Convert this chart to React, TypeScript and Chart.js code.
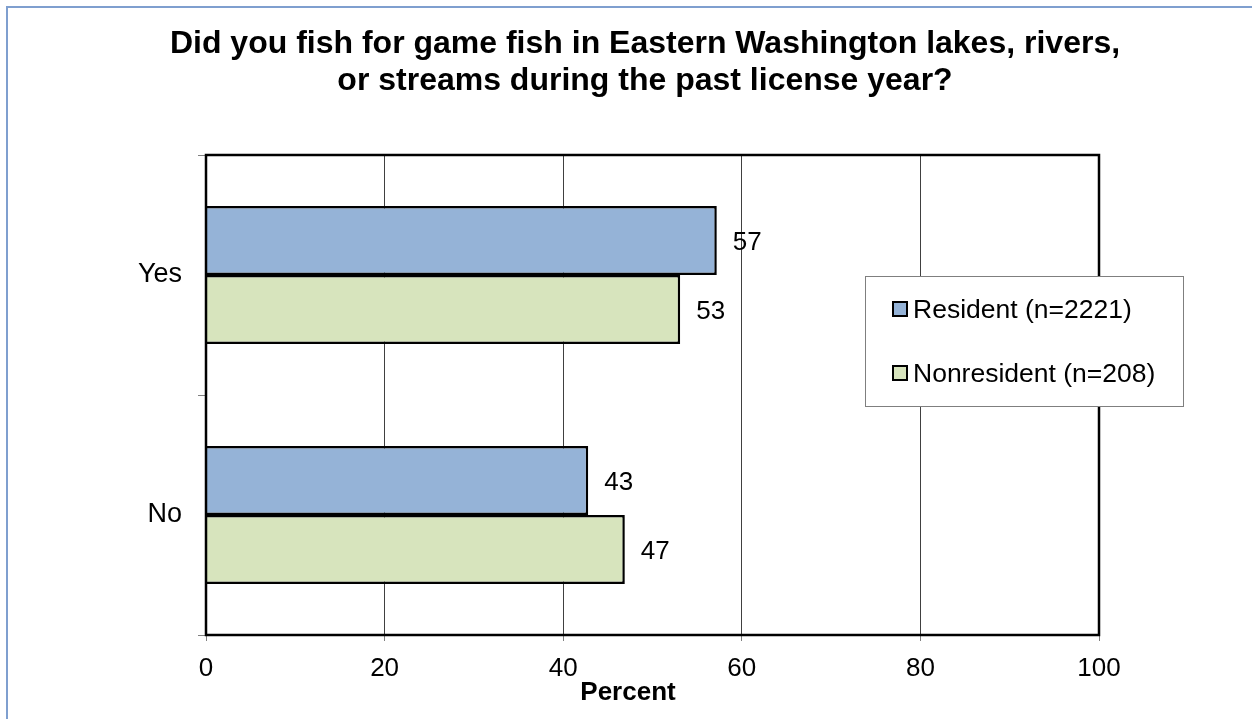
import React, { useEffect, useRef } from "react";
import { Chart, registerables } from "chart.js";

Chart.register(...registerables);

const categories = ["Yes", "No"];
const residentValues = [57.2, 42.8];
const nonresidentValues = [53.1, 46.9];
const seriesNames = ["Resident (n=2221)", "Nonresident (n=208)"];
const xTicks = [0, 20, 40, 60, 80, 100];
const titleLines = [
  "Did you fish for game fish in Eastern Washington lakes, rivers,",
  "or streams during the past license year?",
];
const xAxisTitle = "Percent";

const FONT = 'Arial, "Liberation Sans", sans-serif';
const colors = ["#95B3D7", "#D7E4BD"];

const decorPlugin = {
  id: "decor",
  beforeDraw(chart: any) {
    const ctx = chart.ctx;
    ctx.save();
    ctx.fillStyle = "#ffffff";
    ctx.fillRect(0, 0, chart.width, chart.height);
    ctx.restore();
  },
  afterDatasetsDraw(chart: any) {
    const ctx = chart.ctx;
    const ca = chart.chartArea;
    ctx.save();
    // plot frame
    ctx.strokeStyle = "#000000";
    ctx.lineWidth = 2.5;
    ctx.strokeRect(ca.left, ca.top, ca.right - ca.left, ca.bottom - ca.top);

    // data labels
    ctx.fillStyle = "#000000";
    ctx.font = `26px ${FONT}`;
    ctx.textAlign = "left";
    ctx.textBaseline = "alphabetic";
    chart.data.datasets.forEach((ds: any, i: number) => {
      const meta = chart.getDatasetMeta(i);
      meta.data.forEach((el: any, j: number) => {
        const v = Math.round(ds.data[j]);
        ctx.fillText(String(v), el.x + 16, el.y + 9.5);
      });
    });
    ctx.restore();
  },
  afterDraw(chart: any) {
    const ctx = chart.ctx;
    ctx.save();
    // title
    ctx.fillStyle = "#000000";
    ctx.font = `bold 32px ${FONT}`;
    ctx.textAlign = "center";
    ctx.textBaseline = "alphabetic";
    ctx.fillText(titleLines[0], 645, 53);
    ctx.fillText(titleLines[1], 645, 90);

    // x axis title
    ctx.font = `bold 26px ${FONT}`;
    ctx.fillText(xAxisTitle, 628, 700);

    // legend
    const bx = 865, by = 276, bw = 318, bh = 130;
    ctx.fillStyle = "#ffffff";
    ctx.fillRect(bx, by, bw, bh);
    ctx.strokeStyle = "#7F7F7F";
    ctx.lineWidth = 1;
    ctx.strokeRect(bx + 0.5, by + 0.5, bw, bh);
    const itemYs = [309, 373];
    seriesNames.forEach((name, i) => {
      const cy = itemYs[i];
      ctx.fillStyle = colors[i];
      ctx.fillRect(893, cy - 7, 14, 14);
      ctx.strokeStyle = "#000000";
      ctx.lineWidth = 2;
      ctx.strokeRect(893, cy - 7, 14, 14);
      ctx.fillStyle = "#000000";
      ctx.font = `26.5px ${FONT}`;
      ctx.textAlign = "left";
      ctx.textBaseline = "alphabetic";
      ctx.fillText(name, 913, cy + 9);
    });

    // outer border
    ctx.strokeStyle = "#7F9FCF";
    ctx.lineWidth = 2;
    ctx.beginPath();
    ctx.moveTo(7, chart.height + 2);
    ctx.lineTo(7, 7);
    ctx.lineTo(chart.width + 2, 7);
    ctx.stroke();
    ctx.restore();
  },
};

export default function App() {
  const canvasRef = useRef<HTMLCanvasElement | null>(null);

  useEffect(() => {
    const canvas = canvasRef.current;
    if (!canvas) return;
    const chart = new Chart(canvas, {
      type: "bar",
      data: {
        labels: categories,
        datasets: [
          {
            label: seriesNames[0],
            data: residentValues,
            backgroundColor: colors[0],
            borderColor: "#000000",
            borderWidth: 2.5,
            categoryPercentage: 0.575,
            barPercentage: 1,
          },
          {
            label: seriesNames[1],
            data: nonresidentValues,
            backgroundColor: colors[1],
            borderColor: "#000000",
            borderWidth: 2.5,
            categoryPercentage: 0.575,
            barPercentage: 1,
          },
        ],
      },
      options: {
        indexAxis: "y",
        responsive: false,
        animation: false,
        devicePixelRatio: 1,
        layout: { padding: { top: 155, right: 153, bottom: 0, left: 0 } },
        plugins: {
          legend: { display: false },
          title: { display: false },
          tooltip: { enabled: false },
        },
        scales: {
          x: {
            type: "linear",
            min: xTicks[0],
            max: xTicks[xTicks.length - 1],
            afterBuildTicks: (scale: any) => {
              scale.ticks = xTicks.map((v) => ({ value: v }));
            },
            afterFit: (scale: any) => {
              scale.height = 84;
            },
            grid: {
              color: "#404040",
              lineWidth: 1,
              tickLength: 6,
              tickColor: "#808080",
            },
            border: { display: false },
            ticks: {
              color: "#000000",
              font: { family: FONT, size: 26 },
              padding: 12,
              maxRotation: 0,
            },
          },
          y: {
            type: "category",
            afterFit: (scale: any) => {
              scale.width = 206;
            },
            grid: {
              drawOnChartArea: false,
              offset: true,
              tickLength: 8,
              color: "#808080",
              tickColor: "#808080",
            },
            border: { display: false },
            ticks: {
              color: "#000000",
              font: { family: FONT, size: 27 },
              padding: 16,
            },
          },
        },
      },
      plugins: [decorPlugin],
    } as any);
    return () => chart.destroy();
  }, []);

  return (
    <div style={{ position: "fixed", left: 0, top: 0, width: 1252, height: 719 }}>
      <canvas ref={canvasRef} width={1252} height={719} />
    </div>
  );
}
